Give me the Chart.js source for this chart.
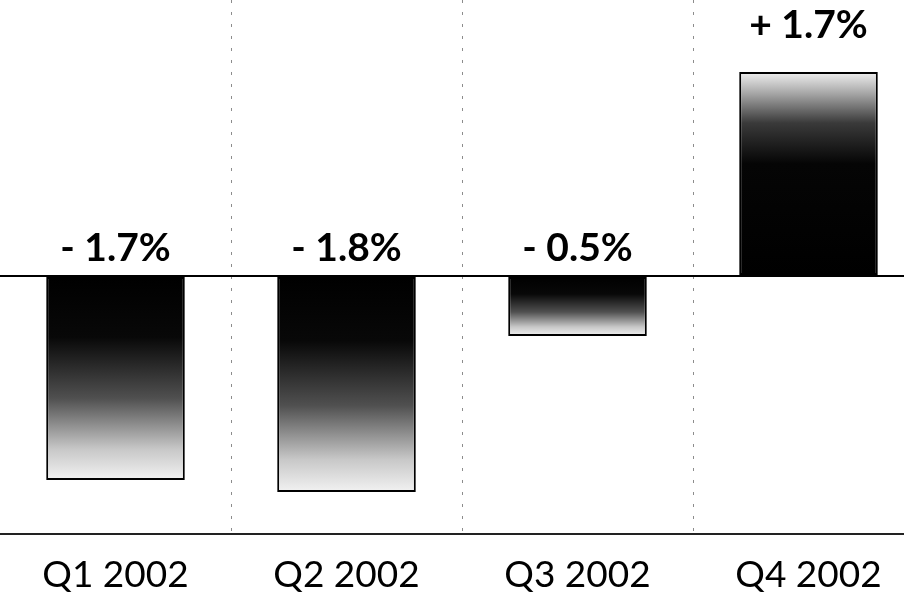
<!DOCTYPE html>
<html>
<head>
<meta charset="utf-8">
<script src="https://cdn.jsdelivr.net/npm/chart.js@4"></script>
<style>
  html, body { margin: 0; padding: 0; background: #fff; overflow: hidden; }
  #wrap { width: 904px; height: 598px; overflow: hidden; }
</style>
</head>
<body>
<div id="wrap"><canvas id="chart" width="924" height="616"></canvas></div>
<script>
const quarters = ["Q1 2002", "Q2 2002", "Q3 2002", "Q4 2002"];
const changes = [-1.7, -1.8, -0.5, 1.7];
const changeLabels = ["- 1.7%", "- 1.8%", "- 0.5%", "+ 1.7%"];

// dark at the zero line, fading to white at the bar end
function barFill(context) {
  const chart = context.chart;
  const y = chart.scales.y;
  if (!y || typeof context.raw !== "number") return "#000";
  const base = y.getPixelForValue(0);
  const end = y.getPixelForValue(context.raw);
  if (!isFinite(base) || !isFinite(end)) return "#000";
  const g = chart.ctx.createLinearGradient(0, base, 0, end);
  if (context.raw < 0) {
    g.addColorStop(0, "#000");
    g.addColorStop(0.3, "#080808");
    g.addColorStop(0.6, "#505050");
    g.addColorStop(0.85, "#c8c8c8");
    g.addColorStop(1, "#f2f2f2");
  } else {
    g.addColorStop(0, "#000");
    g.addColorStop(0.55, "#050505");
    g.addColorStop(0.75, "#3a3a3a");
    g.addColorStop(0.9, "#aaaaaa");
    g.addColorStop(1, "#f0f0f0");
  }
  return g;
}

const valueLabels = {
  id: "valueLabels",
  afterDatasetsDraw(chart) {
    const ctx = chart.ctx;
    const meta = chart.getDatasetMeta(0);
    const zero = chart.scales.y.getPixelForValue(0);
    ctx.save();
    ctx.font = "bold 39px Lato";
    ctx.fillStyle = "#000";
    ctx.textAlign = "center";
    ctx.textBaseline = "alphabetic";
    meta.data.forEach((bar, i) => {
      const y = changes[i] < 0 ? zero - 15 : bar.y - 34;
      ctx.fillText(changeLabels[i], bar.x, y);
    });
    ctx.restore();
  }
};

new Chart(document.getElementById("chart"), {
  type: "bar",
  data: {
    labels: quarters,
    datasets: [
      {
        data: changes,
        backgroundColor: barFill,
        borderColor: "#000",
        borderWidth: 2,
        borderSkipped: false,
        categoryPercentage: 1,
        barPercentage: 0.6,
      },
    ],
  },
  options: {
    responsive: false,
    animation: false,
    devicePixelRatio: 1,
    layout: { padding: 0 },
    plugins: {
      legend: { display: false },
      tooltip: { enabled: false },
    },
    scales: {
      x: {
        grid: {
          offset: true,
          drawTicks: false,
          color: (c) => (c.index === 0 ? "rgba(0,0,0,0)" : "rgba(0,0,0,0.45)"),
          lineWidth: 1,
        },
        border: { display: true, color: "#222", width: 2, dash: [3, 9] },
        ticks: {
          color: "#000",
          font: { family: "Lato", size: 37, weight: 400 },
          padding: 18.8,
          maxRotation: 0,
        },
      },
      y: {
        display: true,
        min: -2.15,
        max: 2.3,
        afterBuildTicks: (axis) => { axis.ticks = [{ value: 0 }]; },
        grid: {
          color: "#000",
          lineWidth: 2,
          drawTicks: false,
        },
        border: { display: false },
        ticks: { display: false },
      },
    },
  },
  plugins: [valueLabels],
});
</script>
</body>
</html>
